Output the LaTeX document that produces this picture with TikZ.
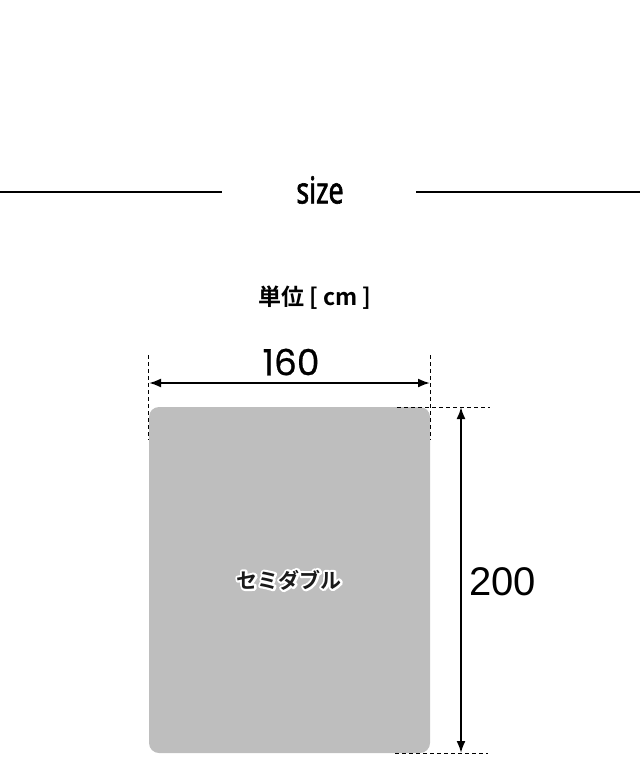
\documentclass[tikz,border=0pt]{standalone}
\usepackage{fontspec}
\usepackage{tikz}
\usetikzlibrary{calc}
\usetikzlibrary{arrows.meta}
\usetikzlibrary{positioning}
\newfontfamily\cjkfont{Noto Sans CJK JP}[BoldFont={Noto Sans CJK JP Bold}]
\newfontfamily\condfont{Noto Sans}[FakeStretch=0.72, FakeBold=1.6]
\newfontfamily\numfont{Poppins}[FakeBold=0.6]
\newfontfamily\arialfont{Liberation Sans}
\definecolor{matgray}{HTML}{BEBEBE}
\definecolor{inkdark}{HTML}{1A1A1A}
\tikzset{>=Latex}
\tikzstyle{rule} = [-, line width = 2pt, black]
\tikzstyle{guide} = [-, line width = 0.9pt, black, dash pattern = on 4pt off 3pt]
\tikzstyle{dim} = [Latex-Latex, line width = 2pt, black]
\newcommand{\haloed}[1]{\special{pdf:literal direct 1 1 1 RG 1 1 1 rg 4.4 w 1 j 1 J 2 Tr}#1\special{pdf:literal direct 0 Tr}}

\begin{document}
\begin{tikzpicture}[x=1pt, y=-1pt]
\useasboundingbox (0, 0) rectangle (640, 784);
% heading
\node [draw=none, inner sep = 0, font=\condfont\fontsize{37}{40}\selectfont] (title) at (320, 190) {size};
\coordinate (ruleLa) at (0, 192);
\coordinate (ruleLb) at (222, 192);
\coordinate (ruleRa) at (416, 192);
\coordinate (ruleRb) at (640, 192);
\draw [rule] (ruleLa) -- (ruleLb);
\draw [rule] (ruleRa) -- (ruleRb);
\node [draw=none, inner sep = 0, font=\cjkfont\bfseries\fontsize{23}{25}\selectfont] (unit) at (315, 298) {単位 [ cm ]};
% mat
\coordinate (tl) at (149, 407);
\coordinate (br) at (430, 753);
\fill [matgray, rounded corners = 10pt] (tl) rectangle (br);
% width
\coordinate (wl) at (148, 355);
\coordinate (wlb) at (148, 440);
\coordinate (wr) at (430, 355);
\coordinate (wrb) at (430, 440);
\draw [guide] (wl) -- (wlb);
\draw [guide] (wr) -- (wrb);
\coordinate (wa) at (149, 383);
\coordinate (wb) at (430, 383);
\draw [dim] (wa) -- (wb);
\node [draw=none, inner sep = 0, font=\numfont\fontsize{36}{38}\selectfont] (width) at (291, 362) {160};
% height
\coordinate (ht) at (397, 407);
\coordinate (hte) at (490, 407);
\coordinate (hb) at (395, 753);
\coordinate (hbe) at (488, 753);
\draw [guide] (ht) -- (hte);
\draw [guide] (hb) -- (hbe);
\coordinate (ha) at (461, 407);
\coordinate (hz) at (461, 753);
\draw [dim] (ha) -- (hz);
\node [draw=none, inner sep = 0, anchor=west, font=\arialfont\fontsize{40}{42}\selectfont] (height) at (469, 582) {200};
% label
\node [draw=none, inner sep = 0, font=\cjkfont\bfseries\fontsize{21}{22}\selectfont] (halo) at (289, 580) {\haloed{セミダブル}};
\node [draw=none, inner sep = 0, inkdark, font=\cjkfont\bfseries\fontsize{21}{22}\selectfont] (name) at (289, 580) {セミダブル};
\end{tikzpicture}
\end{document}
